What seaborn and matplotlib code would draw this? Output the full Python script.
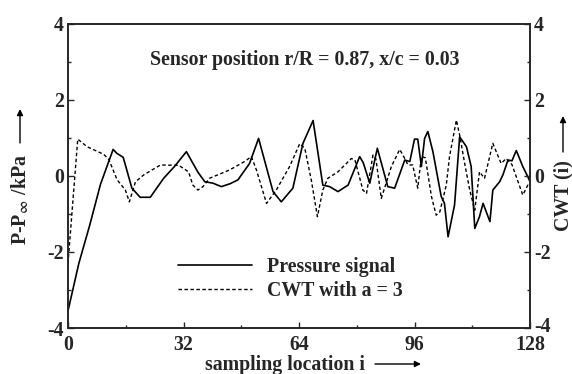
import numpy as np
import pandas as pd
import matplotlib
matplotlib.use("Agg")
import matplotlib.pyplot as plt
import matplotlib.transforms as mtransforms
import seaborn as sns
from matplotlib.lines import Line2D
from matplotlib.patches import FancyArrowPatch

# ---- data ----
p_i = [0, 3, 6, 9, 12.5, 13.5, 15.3, 17.7, 20, 22.8, 26.5, 29.5, 32.8, 36, 37.9, 40.2, 42.5, 45, 47.1,
       50.3, 52.8, 56.8, 59.1, 62.3, 65.1, 67.9, 70.6, 72.5, 74.8, 77.6, 80.8, 81.8, 83.6, 85.7, 88.6,
       90.5, 93.3, 94.7, 96, 96.9, 97.9, 98.8, 99.7, 101.1, 103.4, 104.3, 105.3, 107.1, 108.5, 110.4,
       111.7, 112.7, 114, 115, 116.9, 117.7, 119.6, 120.5, 121.9, 123, 124.2, 126, 127.4, 128]
p_v = [-3.55, -2.3, -1.3, -0.22, 0.70, 0.60, 0.49, -0.32, -0.56, -0.56, -0.06, 0.25, 0.64, 0.10, -0.15,
       -0.19, -0.28, -0.20, -0.10, 0.33, 0.99, -0.41, -0.68, -0.32, 0.86, 1.46, -0.24, -0.28, -0.41,
       -0.24, 0.51, 0.35, -0.19, 0.73, -0.28, -0.32, 0.42, 0.38, 0.97, 0.97, 0.25, 0.99, 1.17, 0.64,
       -0.54, -0.72, -1.60, -0.76, 1.03, 0.77, 0.25, -1.38, -1.07, -0.72, -1.20, -0.37, -0.15, 0.03,
       0.42, 0.40, 0.67, 0.25, -0.02, -0.15]

c_i = [0, 2.7, 5.3, 9.9, 11.3, 13.6, 15.9, 17, 18.7, 21, 25.6, 30.7, 33.4, 34.6, 36, 37.4, 39.2, 44.8,
       48.9, 50.8, 52.2, 55, 57.7, 61.4, 64.2, 65.6, 67.4, 69.1, 70.6, 72, 74.8, 78.5, 79.5, 81.7, 82.7,
       84.5, 85.3, 86.8, 89.6, 91.9, 92.8, 94.2, 95.5, 96.9, 97.9, 99, 100.7, 102, 103, 104.8, 105.7,
       107.6, 108.5, 109.9, 111.3, 112.7, 114, 115.4, 117.7, 120, 121.4, 123, 126, 127.4, 128]
c_v = [-2.3, 0.97, 0.77, 0.57, 0.44, -0.10, -0.37, -0.68, -0.15, 0.03, 0.29, 0.28, 0.11, -0.24, -0.37,
       -0.28, -0.06, 0.16, 0.38, 0.51, 0.16, -0.72, -0.37, 0.25, 0.85, 0.73, -0.10, -1.07, -0.37, -0.06,
       0.11, 0.46, 0.42, -0.37, -0.46, 0.55, 0.45, -0.59, 0.25, 0.70, 0.55, 0.29, 0.29, -0.32, 0.51,
       0.48, -0.54, -1.03, -0.95, -0.24, 0.51, 1.47, 1.08, 0.33, -0.37, -0.90, 0.11, -0.06, 0.86, 0.33,
       0.46, 0.30, -0.50, -0.24, -0.30]

x_ticks = [0, 32, 64, 96, 128]
y_ticks = [-4, -2, 0, 2, 4]

sns.set_style("ticks")
plt.rcParams['font.family'] = ['Liberation Serif', 'DejaVu Sans']
plt.rcParams['font.weight'] = 'bold'
plt.rcParams['mathtext.fontset'] = 'stix'

W, H = 572, 374
fig = plt.figure(figsize=(W/100, H/100), dpi=100)
ax = fig.add_axes([68/W, 1-328/H, (530-68)/W, (328-24)/H])
ax2 = ax.twinx()

dp = pd.DataFrame({"i": p_i, "v": p_v})
dc = pd.DataFrame({"i": c_i, "v": c_v})
dash = (0, (2.5, 1.8))
sns.lineplot(data=dp, x="i", y="v", ax=ax, color="black", lw=1.2, legend=False)
sns.lineplot(data=dc, x="i", y="v", ax=ax2, color="black", lw=1.0, legend=False)
ax2.lines[0].set_linestyle(dash)

fs = 14.3
for a in (ax, ax2):
    a.set_xlim(0, 128)
    a.set_ylim(-4, 4)
    a.set_yticks(y_ticks)
    a.set_yticks([-3, -1, 1, 3], minor=True)
    a.set_yticklabels([str(v) for v in y_ticks])
    a.set_xlabel("")
    a.set_ylabel("")
    for s in a.spines.values():
        s.set_linewidth(1.2)
        s.set_visible(True)
ax.set_xticks(x_ticks)
ax.set_xticks([16, 48, 80, 112], minor=True)
ax.set_xticklabels([str(v) for v in x_ticks])
ax.tick_params(axis='both', which='both', direction='in', labelsize=fs)
ax.tick_params(axis='x', pad=5)
ax.tick_params(axis='y', pad=3)
ax.tick_params(which='major', length=4, width=1)
ax.tick_params(which='minor', length=2.5, width=1)
ax2.tick_params(axis='y', which='both', direction='in', labelsize=fs, pad=3)
ax2.tick_params(which='major', length=4, width=1)
ax2.tick_params(which='minor', length=2.5, width=1)
for lab in ax.get_xticklabels() + ax.get_yticklabels() + ax2.get_yticklabels():
    lab.set_fontweight('bold')

# nudge the lowest right-hand label up a little so it clears "128"
lab_m4 = ax2.get_yticklabels()[0]
lab_m4.set_transform(lab_m4.get_transform() +
                     mtransforms.ScaledTranslation(0, 4/100, fig.dpi_scale_trans))

ax.text(0.513, 0.88, "Sensor position r/R = 0.87, x/c = 0.03", transform=ax.transAxes,
        ha='center', va='center', fontsize=fs, fontweight='bold')

h1 = Line2D([], [], color='black', lw=1.2)
h2 = Line2D([], [], color='black', lw=1.0, linestyle=dash)
ax.legend([h1, h2], ["Pressure signal", "CWT with a = 3"], loc='upper left',
          bbox_to_anchor=((178-68)/462, (328-257)/304), frameon=False, handlelength=3.75,
          handletextpad=0.75, labelspacing=0.2, borderpad=0, borderaxespad=0,
          prop={'weight': 'bold', 'size': fs})

def fx(x):
    return x / W

def fy(y):
    return 1 - y / H

fig.text(fx(285), fy(365), "sampling location i", ha='center', va='center',
         fontsize=fs, fontweight='bold')
fig.text(fx(20), fy(200), "P-P$_{\\infty}$ /kPa", rotation=90, ha='center',
         va='center', fontsize=fs, fontweight='bold')
fig.text(fx(563), fy(196), "CWT (i)", rotation=90, ha='center', va='center',
         fontsize=fs, fontweight='bold')

def arrow(x0, y0, x1, y1):
    fig.add_artist(FancyArrowPatch((fx(x0), fy(y0)), (fx(x1), fy(y1)), transform=fig.transFigure,
                                   arrowstyle='-|>', mutation_scale=9, lw=1.0, color='black',
                                   shrinkA=0, shrinkB=0))

arrow(375, 364, 421, 364)
arrow(20, 143, 20, 109)
arrow(563, 152, 563, 116)

fig.savefig("out.png", dpi=100)
